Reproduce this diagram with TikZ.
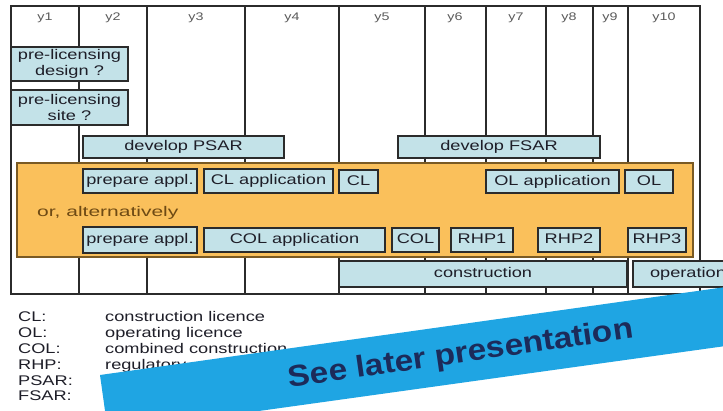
\documentclass[tikz,border=0pt]{standalone}
\usepackage{fontspec}
\setmainfont{Liberation Sans}[FakeStretch=1.3]
\newfontfamily\widefont{Liberation Sans}[FakeStretch=1.5]
\newfontfamily\slidefont{Liberation Sans}[FakeStretch=1.11]
\definecolor{GridLn}  {HTML}{2B2B2B}
\definecolor{BoxFill} {HTML}{C3E2E8}
\definecolor{BoxText} {HTML}{1E1E28}
\definecolor{AltFill} {HTML}{FAC05B}
\definecolor{AltLine} {HTML}{7A5A24}
\definecolor{AltText} {HTML}{6E4A14}
\definecolor{HeadTxt} {HTML}{5A5A5A}
\definecolor{Banner}  {HTML}{1FA5E3}
\definecolor{BannerTx}{HTML}{1C2B5A}

\begin{document}
\begin{tikzpicture}[
  x=1pt, y=-1pt,
  every node/.style={align=center},
  grid/.style   = {draw=GridLn, line width=1.4pt},
  stage/.style  = {draw=GridLn, fill=BoxFill, line width=1.3pt, inner sep=1pt,
                   font=\fontsize{14}{15.5}\selectfont, text=BoxText,
                   text height=10pt, text depth=3pt},
  twoline/.style= {stage, text height=, text depth=},
  altband/.style= {draw=AltLine, fill=AltFill, line width=1.3pt},
  note/.style   = {font=\widefont\fontsize{14}{15.5}\selectfont, text=AltText,
                   anchor=west, inner sep=0pt},
  yr/.style     = {font=\fontsize{11}{12}\selectfont, text=HeadTxt},
  leg/.style    = {font=\fontsize{14}{15.5}\selectfont, text=BoxText, anchor=west,
                   inner sep=0pt, text height=10pt, text depth=3pt},
  seeme/.style  = {font=\slidefont\bfseries\fontsize{30}{32}\selectfont,
                   text=BannerTx, inner sep=0pt},
]
\useasboundingbox (0,0) rectangle (723,410);
\fill[white] (0,0) rectangle (723,410);
\clip (0,0) rectangle (723,410);

% -- Year grid --------------------------------------------------------------
\draw[grid] (11,6) rectangle (700,294);
\foreach \x in {79,147,245,339,425,486,546,593,628}{
  \draw[grid] (\x,6) -- (\x,294);
}
\foreach \x/\t in {45/y1,113/y2,196/y3,292/y4,382/y5,455/y6,516/y7,569/y8,610/y9,664/y10}{
  \node[yr] (h-\t) at (\x,18) {\t};
}

% -- Pre-licensing and safety reports ---------------------------------------
\node[twoline, minimum width=117, minimum height=34] (predesign) at (69.5,64)  {pre-licensing\\design ?};
\node[twoline, minimum width=117, minimum height=35] (presite)   at (69.5,107.5){pre-licensing\\site ?};
\node[stage,   minimum width=201, minimum height=22] (psar)      at (183.5,147) {develop PSAR};
\node[stage,   minimum width=202, minimum height=22] (fsar)      at (499,147)   {develop FSAR};

% -- Licensing routes ------------------------------------------------------
\node[altband, minimum width=676, minimum height=94] (alt) at (355,210) {};
\node[note] (ortext) at (37,213) {or, alternatively};

\node[stage, minimum width=114, minimum height=24] (prep1) at (140,181)   {prepare appl.};
\node[stage, minimum width=129, minimum height=24] (clapp) at (268.5,181) {CL application};
\node[stage, minimum width=39,  minimum height=23] (cl)    at (358.5,181.5){CL};
\node[stage, minimum width=133, minimum height=23] (olapp) at (552.5,181.5){OL application};
\node[stage, minimum width=48,  minimum height=23] (ol)    at (649,181.5) {OL};

\node[stage, minimum width=114, minimum height=26] (prep2)  at (140,240)   {prepare appl.};
\node[stage, minimum width=181, minimum height=24] (colapp) at (294.5,240) {COL application};
\node[stage, minimum width=47,  minimum height=24] (col)    at (415.5,240) {COL};
\node[stage, minimum width=62,  minimum height=24] (rhp1)   at (482,240)   {RHP1};
\node[stage, minimum width=62,  minimum height=24] (rhp2)   at (569,240)   {RHP2};
\node[stage, minimum width=58,  minimum height=24] (rhp3)   at (657,240)   {RHP3};

% -- Construction / operation ---------------------------------------------
\node[stage, minimum width=288, minimum height=26] (constr) at (483,274) {construction};
\node[stage, minimum width=110, minimum height=26] (oper)   at (688,274) {operation};

% -- Legend ----------------------------------------------------------------
\foreach \y/\k in {318/CL,334/OL,350/COL,366/RHP,382/PSAR,397/FSAR}{
  \node[leg] (k-\k) at (18,\y) {\k:};
}
\node[leg] (d-CL)  at (105,318) {construction licence};
\node[leg] (d-OL)  at (105,334) {operating licence};
\node[leg] (d-COL) at (105,350) {combined construction};
\node[leg] (d-RHP) at (105,366) {regulatory};

% -- Overlay banner --------------------------------------------------------
\fill[Banner] (100,375) -- (740,285) -- (740,344) -- (108,432) -- cycle;
\node[seeme, rotate=8.2] (see) at (461,355) {See later presentation};

\end{tikzpicture}
\end{document}
